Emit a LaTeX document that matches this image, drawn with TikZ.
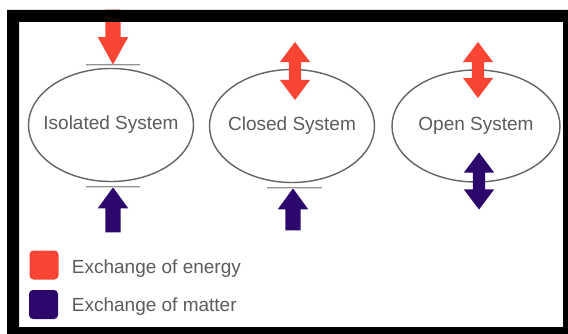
\documentclass[tikz,border=0pt]{standalone}
\usepackage{fontspec}
\setmainfont{Liberation Sans}
\usetikzlibrary{shapes.geometric,shapes.arrows,positioning}
\definecolor{energyred}{RGB}{250,68,52}
\definecolor{matterpurple}{RGB}{44,8,108}
\definecolor{labelgray}{RGB}{92,92,92}
\definecolor{rimgray}{RGB}{100,100,100}
\begin{document}
\begin{tikzpicture}
[x=1pt,y=-1pt,
  systemdecorate/.style={shape=ellipse,draw=rimgray,line width=1.4pt,fill=white,%
    minimum width=165pt,minimum height=113pt,inner sep=0pt},
  systemlabel/.style={text=labelgray,inner sep=0pt,font=\fontsize{19}{21}\selectfont},
  pusharrow/.style={shape=single arrow,inner sep=7.5pt,single arrow head extend=7.5pt,%
    single arrow tip angle=72,minimum height=#1},
  swaparrow/.style={shape=double arrow,inner sep=6pt,double arrow head extend=9pt,%
    double arrow tip angle=74,minimum height=#1},
  wallline/.style={draw=gray!85,line width=0.9pt,double=gray!30,double distance=0.7pt},
  keybox/.style={shape=rectangle,rounded corners=4pt,minimum size=29pt,inner sep=0pt},
  legendtext/.style={text=labelgray,inner sep=0pt,font=\fontsize{19}{21}\selectfont}]
\useasboundingbox (0,0) rectangle (568,334);
\fill[white] (0,0) rectangle (568,334);
% systems
\node (iso) at (111,125) [systemdecorate] {};
\node (isolabel) at (iso.center) [systemlabel] {Isolated System};
\node (closed) at (292,126) [systemdecorate] {};
\node (closedlabel) at (closed.center) [systemlabel] {Closed System};
\node (open) at (476,126) [systemdecorate,minimum width=168pt,minimum height=112pt] {};
\node (openlabel) at (open.center) [systemlabel] {Open System};
% exchange arrows
\node (isoen) at (113,65) [pusharrow=55pt,single arrow tip angle=58,rotate=-90,anchor=tip,fill=energyred] {};
\node (isomat) at (113,187) [pusharrow=45pt,rotate=90,anchor=tip,fill=matterpurple] {};
\node (closeden) at (295,71) [swaparrow=58pt,rotate=90,fill=energyred] {};
\node (closedmat) at (293,188) [pusharrow=42pt,rotate=90,anchor=tip,fill=matterpurple] {};
\node (openen) at (478,70) [swaparrow=56pt,rotate=90,fill=energyred] {};
\node (openmat) at (479,181) [swaparrow=57pt,rotate=90,fill=matterpurple] {};
% walls
\draw[wallline] ([xshift=-27pt]isoen.tip) -- ([xshift=27pt]isoen.tip);
\draw[wallline] ([xshift=-27pt]isomat.tip) -- ([xshift=27pt]isomat.tip);
\draw[wallline] ([xshift=-26pt]closedmat.tip) -- ([xshift=29pt]closedmat.tip);
% legend
\node (energykey) at (44,265) [keybox,fill=energyred] {};
\node (matterkey) at (43.5,304.5) [keybox,fill=matterpurple] {};
\node (energytext) at ([xshift=13pt,yshift=-8pt]energykey.east) [legendtext,anchor=base west] {Exchange of energy};
\node (mattertext) at ([xshift=13.5pt,yshift=-7pt]matterkey.east) [legendtext,anchor=base west] {Exchange of matter};
% frame
\fill[black,even odd rule] (7,10) rectangle (568,334) (19,22) rectangle (563,327);
\end{tikzpicture}
\end{document}
